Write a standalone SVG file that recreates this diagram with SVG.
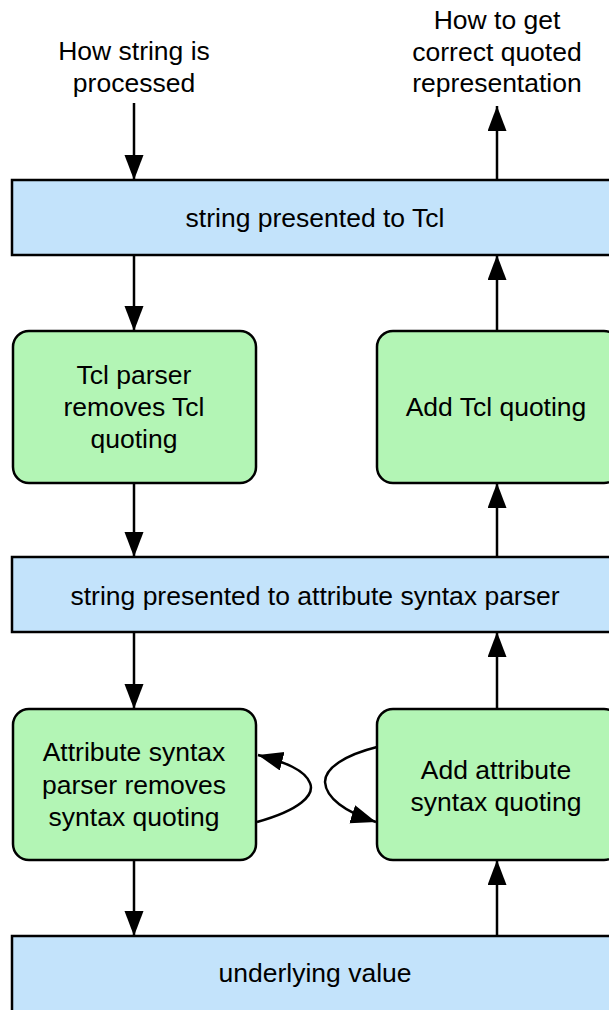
<svg xmlns="http://www.w3.org/2000/svg" width="609" height="1010" viewBox="0 0 609 1010">
<style>
.blue{fill:#c3e3fb;stroke:#000;stroke-width:2.5}
.green{fill:#b3f5b5;stroke:#000;stroke-width:2.5}
.t{font-family:"Liberation Sans",Arial,sans-serif;font-size:26.5px;fill:#000;text-anchor:middle}
.c{fill:none;stroke:#000;stroke-width:2.5}
</style>
<defs>
<marker id="ah" markerUnits="userSpaceOnUse" markerWidth="26" markerHeight="20" refX="25" refY="9.5" orient="auto">
<path d="M0,0 L25,9.5 L0,19 z" fill="#000"/>
</marker>
</defs>
<rect width="609" height="1010" fill="#fff"/>
<g id="label-left">
<text class="t" x="134" y="60">How string is</text>
<text class="t" x="134" y="92">processed</text>
</g>
<g id="label-right">
<text class="t" x="497" y="29">How to get</text>
<text class="t" x="497" y="61">correct quoted</text>
<text class="t" x="497" y="92">representation</text>
</g>
<g id="tcl-string">
<rect class="blue" x="12" y="180" width="606" height="75"/>
<text class="t" x="315" y="227">string presented to Tcl</text>
</g>
<g id="tcl-parser">
<rect class="green" x="13" y="331" width="243" height="152" rx="16"/>
<text class="t" x="134" y="384">Tcl parser</text>
<text class="t" x="134" y="416">removes Tcl</text>
<text class="t" x="134" y="448">quoting</text>
</g>
<g id="add-tcl">
<rect class="green" x="377" y="331" width="243" height="152" rx="16"/>
<text class="t" x="496" y="416">Add Tcl quoting</text>
</g>
<g id="attr-string">
<rect class="blue" x="12" y="557" width="606" height="75"/>
<text class="t" x="315" y="605">string presented to attribute syntax parser</text>
</g>
<g id="attr-parser">
<rect class="green" x="13" y="709" width="243" height="151" rx="16"/>
<text class="t" x="134" y="761">Attribute syntax</text>
<text class="t" x="134" y="794">parser removes</text>
<text class="t" x="134" y="826">syntax quoting</text>
</g>
<g id="add-attr">
<rect class="green" x="377" y="709" width="243" height="151" rx="16"/>
<text class="t" x="496" y="779">Add attribute</text>
<text class="t" x="496" y="811">syntax quoting</text>
</g>
<g id="underlying">
<rect class="blue" x="12" y="936" width="606" height="90"/>
<text class="t" x="315" y="982">underlying value</text>
</g>
<g id="connectors">
<line class="c" x1="134" y1="103" x2="134" y2="180" marker-end="url(#ah)"/>
<line class="c" x1="134" y1="255" x2="134" y2="331" marker-end="url(#ah)"/>
<line class="c" x1="134" y1="483" x2="134" y2="557" marker-end="url(#ah)"/>
<line class="c" x1="134" y1="632" x2="134" y2="709" marker-end="url(#ah)"/>
<line class="c" x1="134" y1="860" x2="134" y2="936" marker-end="url(#ah)"/>
<line class="c" x1="497" y1="936" x2="497" y2="860" marker-end="url(#ah)"/>
<line class="c" x1="497" y1="709" x2="497" y2="632" marker-end="url(#ah)"/>
<line class="c" x1="497" y1="557" x2="497" y2="483" marker-end="url(#ah)"/>
<line class="c" x1="497" y1="331" x2="497" y2="255" marker-end="url(#ah)"/>
<line class="c" x1="497" y1="180" x2="497" y2="106" marker-end="url(#ah)"/>
<path class="c" d="M257,822 C300,810 315,795 310,783 C305,770 285,762 258,755" marker-end="url(#ah)"/>
<path class="c" d="M377,747 C345,755 325,768 325,782 C326,798 345,812 376,822" marker-end="url(#ah)"/>
</g>
</svg>
